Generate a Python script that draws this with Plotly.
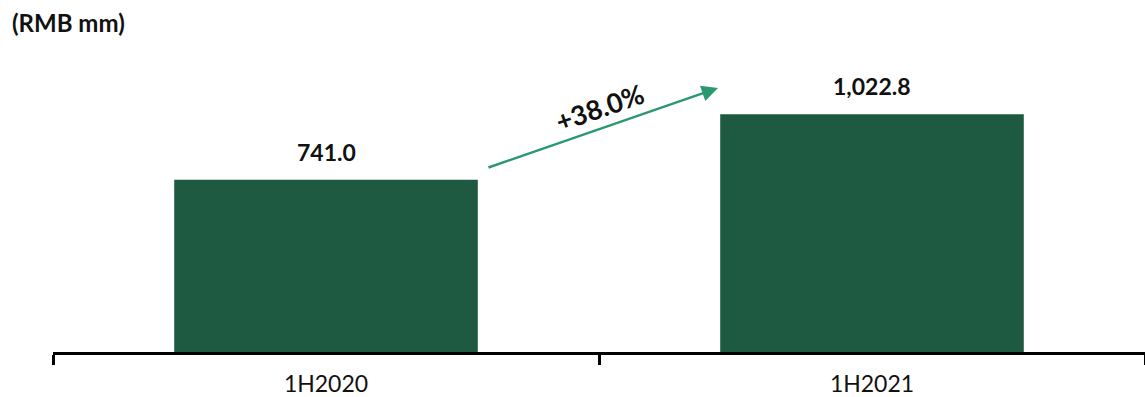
import plotly.graph_objects as go

categories = ["1H2020", "1H2021"]
values = [741.0, 1022.8]
value_labels = ["741.0", "1,022.8"]
growth_label = "+38.0%"
unit_label = "(RMB mm)"

BAR_COLOR = "#1E5A41"
ARROW_COLOR = "#2A9970"
FONT = "Lato"

fig = go.Figure()
fig.add_trace(go.Bar(
    x=categories, y=values, marker=dict(color=BAR_COLOR, line=dict(width=0)),
    hoverinfo="skip", showlegend=False,
))

for c, v, t in zip(categories, values, value_labels):
    fig.add_annotation(
        x=c, y=v, text=f"<b>{t}</b>", showarrow=False, yanchor="bottom",
        yshift=12, font=dict(family=FONT, size=23, color="#111111"),
    )

W, H = 1145, 397
ml, mr, mt, mb = 53, 0, 73, 45
pw, ph = W - ml - mr, H - mt - mb

def px(x):
    return (x - ml) / pw

def py(y):
    return (H - mb - y) / ph

# growth arrow
fig.add_annotation(
    xref="paper", yref="paper", x=px(718), y=py(88),
    ax=487 - 718, ay=168 - 88, axref="pixel", ayref="pixel",
    text="", showarrow=True, arrowhead=2, arrowsize=1.3, arrowwidth=2.5,
    arrowcolor=ARROW_COLOR, standoff=0,
)
fig.add_annotation(
    xref="paper", yref="paper", x=px(599), y=py(107),
    text=f"<b>{growth_label}</b>", showarrow=False, textangle=-19,
    font=dict(family=FONT, size=27, color="#111111"),
    xanchor="center", yanchor="middle",
)

fig.update_layout(
    width=W, height=H,
    margin=dict(l=ml, r=mr, t=mt, b=mb, pad=0),
    paper_bgcolor="white", plot_bgcolor="white",
    bargap=0.444,
    title=dict(
        text=f"<b>{unit_label}</b>", x=12 / W, xanchor="left",
        y=1 - 24 / H, yanchor="middle", xref="container", yref="container",
        font=dict(family=FONT, size=24, color="#111111"),
    ),
    xaxis=dict(
        showline=True, linecolor="black", linewidth=2.5,
        ticks="outside", tickson="boundaries", ticklen=10, tickwidth=2.5,
        tickcolor="black", showgrid=False, zeroline=False,
        ticklabelstandoff=10,
        tickfont=dict(family=FONT, size=23, color="#111111"),
    ),
    yaxis=dict(
        range=[0, 1200], visible=False, showgrid=False, zeroline=False,
    ),
)

fig.write_html("out.html")
